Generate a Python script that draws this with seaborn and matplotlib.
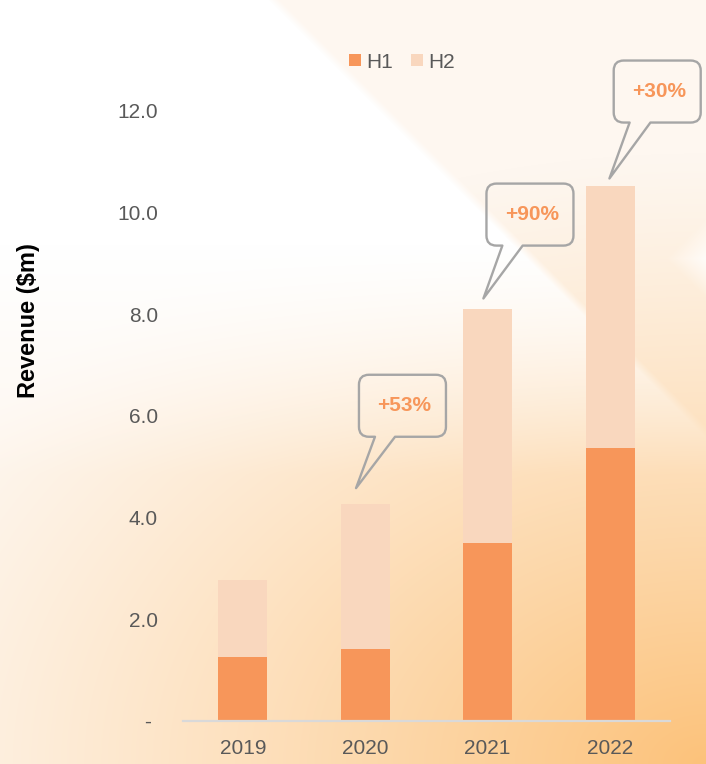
import numpy as np
import pandas as pd
import matplotlib
matplotlib.use("Agg")
import matplotlib.pyplot as plt
import seaborn as sns
from matplotlib.path import Path
from matplotlib.patches import PathPatch
from matplotlib.lines import Line2D
from matplotlib.transforms import IdentityTransform

# ---------------- data ----------------
years = ["2019", "2020", "2021", "2022"]
h1 = [1.26, 1.42, 3.50, 5.37]
h2 = [1.51, 2.85, 4.61, 5.16]
growth_labels = ["+53%", "+90%", "+30%"]
y_ticks = [0, 2, 4, 6, 8, 10, 12]
y_tick_labels = ["- ", "2.0", "4.0", "6.0", "8.0", "10.0", "12.0"]

# ---------------- style ----------------
sns.set_theme(style="white")
plt.rcParams["font.family"] = ["Liberation Sans", "DejaVu Sans"]

C_H1 = "#F7965A"
C_H2 = "#F9D7BE"
C_TXT = "#595959"
C_PCT = "#F7965A"
C_BOX = "#A6A6A6"

W, H = 706, 764
fig = plt.figure(figsize=(W / 100, H / 100), dpi=100)

# ---------------- background ----------------
bg = fig.add_axes([0, 0, 1, 1])
bg.set_zorder(0)
yy, xx = np.mgrid[0:H, 0:W].astype(float)
u = xx / W
v = yy / H
pale = np.array([254, 247, 240]) / 255
orange = np.array([252, 194, 122]) / 255
white = np.array([1.0, 1.0, 1.0])
d = np.sqrt(((1 - u) / 1.25) ** 2 + ((1 - v) / 0.8) ** 2)
t = np.clip(1 - d, 0, 1) ** 1.15
img = pale[None, None, :] * (1 - t[..., None]) + orange[None, None, :] * t[..., None]
# white top-left region bounded by a diagonal
s = xx - yy - 280
w_edge = np.clip(-s / 12, 0, 1)
fade = np.clip((0.62 - v) / 0.3, 0, 1)
w = w_edge * fade
img = img * (1 - w[..., None]) + white[None, None, :] * w[..., None]
# white wedge on right edge
wedge = np.clip(1 - (np.abs(yy - 258) / 40 + (W - xx) / 40), 0, 1) * 0.8
img = img * (1 - wedge[..., None]) + white[None, None, :] * wedge[..., None]
bg.imshow(img, aspect="auto", extent=[0, 1, 0, 1], origin="upper")
bg.axis("off")

# ---------------- main axes ----------------
ax = fig.add_axes([183 / W, 1 - 721 / H, (670 - 183) / W, (721 - 60) / H])
ax.set_zorder(1)
ax.patch.set_alpha(0)

totals = [a + b for a, b in zip(h1, h2)]
df = pd.DataFrame({"year": years, "H1": h1, "total": totals})

sns.barplot(data=df, x="year", y="total", color=C_H2, width=0.4,
            saturation=1, linewidth=0, ax=ax)
sns.barplot(data=df, x="year", y="H1", color=C_H1, width=0.4,
            saturation=1, linewidth=0, ax=ax)

ax.set_xlim(-0.49, 3.49)
ax.set_ylim(0, 13)
ax.set_yticks(y_ticks)
ax.set_yticklabels(y_tick_labels)
ax.set_xlabel("")
ax.set_ylabel("")
ax.tick_params(axis="y", length=0, pad=18, labelsize=15, labelcolor=C_TXT)
ax.tick_params(axis="x", length=0, pad=13, labelsize=15, labelcolor=C_TXT)
for side in ["left", "right", "top"]:
    ax.spines[side].set_visible(False)
ax.spines["bottom"].set_color("#D9D9D9")
ax.spines["bottom"].set_linewidth(1.6)

fig.text(29 / W, 1 - 321 / H, "Revenue ($m)", rotation=90, ha="center",
         va="center", fontsize=17, fontweight="bold", color="black")

# legend
handles = [Line2D([], [], marker="s", linestyle="none", markersize=8,
                  markerfacecolor=C_H1, markeredgewidth=0),
           Line2D([], [], marker="s", linestyle="none", markersize=8,
                  markerfacecolor=C_H2, markeredgewidth=0)]
fig.legend(handles, ["H1", "H2"], loc="center", ncol=2,
           bbox_to_anchor=(401 / W, 1 - 62 / H), frameon=False,
           fontsize=15, labelcolor=C_TXT, handlelength=0.7,
           handletextpad=0.2, columnspacing=0.8)

# ---------------- callouts ----------------
# layout (data coords): box left, box bottom, tail base x0, x1, tip x, tip y
callout_layout = [
    (0.948, 5.59, 1.079, 1.243, 0.924, 4.58),
    (1.990, 9.35, 2.120, 2.286, 1.965, 8.31),
    (3.030, 11.77, 3.160, 3.330, 2.995, 10.67),
]
BOX_W_PX, BOX_H_PX, RAD = 87, 62, 10

fig.canvas.draw()
for label, (bl, bb, ta, tb, tx, ty) in zip(growth_labels, callout_layout):
    L, B = ax.transData.transform((bl, bb))
    R, T = L + BOX_W_PX, B + BOX_H_PX
    a = ax.transData.transform((ta, bb))[0]
    b = ax.transData.transform((tb, bb))[0]
    tip = tuple(ax.transData.transform((tx, ty)))
    r = RAD
    verts = [(L + r, B), (a, B), tip, (b, B), (R - r, B),
             (R, B), (R, B + r), (R, T - r),
             (R, T), (R - r, T), (L + r, T),
             (L, T), (L, T - r), (L, B + r),
             (L, B), (L + r, B), (L + r, B)]
    codes = [Path.MOVETO, Path.LINETO, Path.LINETO, Path.LINETO, Path.LINETO,
             Path.CURVE3, Path.CURVE3, Path.LINETO,
             Path.CURVE3, Path.CURVE3, Path.LINETO,
             Path.CURVE3, Path.CURVE3, Path.LINETO,
             Path.CURVE3, Path.CURVE3, Path.CLOSEPOLY]
    patch = PathPatch(Path(verts, codes), transform=IdentityTransform(),
                      facecolor="none", edgecolor=C_BOX, linewidth=1.7,
                      joinstyle="round", zorder=5)
    fig.add_artist(patch)
    cx, cy = (L + R) / 2 + 2, (B + T) / 2
    fig.text(cx / (fig.dpi * fig.get_figwidth()),
             cy / (fig.dpi * fig.get_figheight()), label,
             ha="center", va="center", fontsize=15, fontweight="bold",
             color=C_PCT, zorder=6)

fig.savefig("out.png", dpi=100)
